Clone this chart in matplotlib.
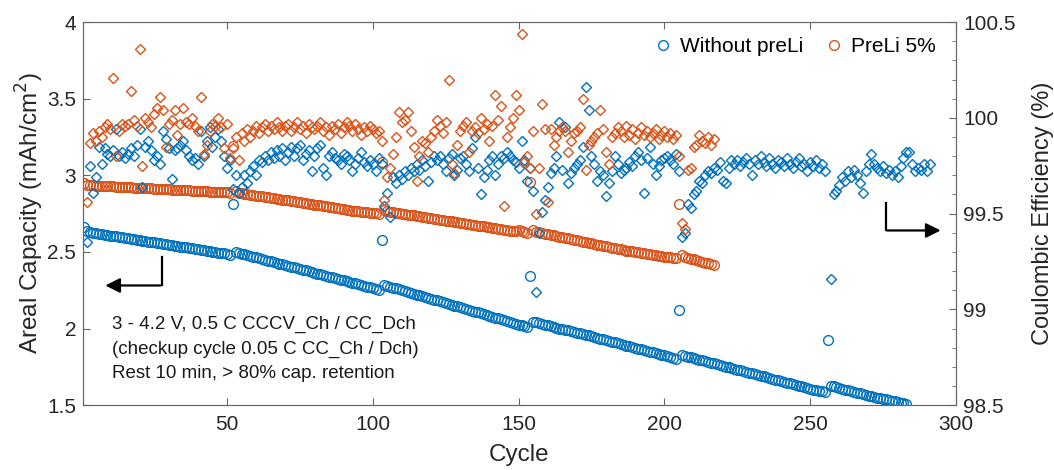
import numpy as np
import matplotlib
matplotlib.use("Agg")
import matplotlib.pyplot as plt

plt.rcParams['font.family'] = ['Liberation Sans', 'DejaVu Sans']

# areal capacity (mAh/cm2), one value per cycle starting at cycle 1
cap_blue = [
    2.660, 2.635, 2.629, 2.625, 2.622, 2.619, 2.616, 2.613, 2.610, 2.607,
    2.604, 2.601, 2.598, 2.595, 2.592, 2.589, 2.586, 2.583, 2.580, 2.577,
    2.574, 2.571, 2.568, 2.565, 2.562, 2.559, 2.556, 2.553, 2.550, 2.547,
    2.544, 2.541, 2.538, 2.535, 2.532, 2.529, 2.526, 2.523, 2.520, 2.517,
    2.514, 2.511, 2.508, 2.505, 2.502, 2.499, 2.496, 2.493, 2.490, 2.487,
    2.483, 2.810, 2.500, 2.494, 2.489, 2.484, 2.479, 2.474, 2.469, 2.464,
    2.459, 2.454, 2.449, 2.444, 2.439, 2.434, 2.429, 2.424, 2.419, 2.414,
    2.409, 2.404, 2.399, 2.394, 2.389, 2.384, 2.379, 2.374, 2.369, 2.364,
    2.359, 2.354, 2.349, 2.344, 2.339, 2.334, 2.329, 2.324, 2.319, 2.314,
    2.309, 2.304, 2.299, 2.294, 2.289, 2.284, 2.279, 2.274, 2.269, 2.264,
    2.259, 2.254, 2.580,
    2.285, 2.279, 2.273, 2.267, 2.262, 2.256, 2.250,
    2.245, 2.239, 2.234, 2.228, 2.222, 2.217, 2.211, 2.206, 2.200, 2.194,
    2.189, 2.183, 2.178, 2.172, 2.166, 2.161, 2.155, 2.150, 2.144, 2.138,
    2.133, 2.127, 2.122, 2.116, 2.110, 2.105, 2.099, 2.094, 2.088, 2.082,
    2.077, 2.071, 2.066, 2.060, 2.054, 2.049, 2.043, 2.038, 2.032, 2.026,
    2.021, 2.015, 2.010,
    2.340, 2.045, 2.040,
    2.035, 2.030, 2.025, 2.020, 2.015, 2.010, 2.005, 2.000, 1.995, 1.990,
    1.992, 1.983, 1.978, 1.973, 1.968, 1.963, 1.958, 1.958, 1.950, 1.944,
    1.939, 1.934, 1.929, 1.924, 1.919, 1.914, 1.909, 1.904, 1.899, 1.894,
    1.889, 1.884, 1.879, 1.874, 1.869, 1.864, 1.859, 1.854, 1.849, 1.844,
    1.839, 1.834, 1.829, 1.824, 1.819, 1.814, 1.809, 1.804,
    2.124, 1.828, 1.822,
    1.817, 1.812, 1.807, 1.802, 1.797, 1.792, 1.787, 1.782, 1.777, 1.772,
    1.767, 1.762, 1.757, 1.752, 1.747, 1.742, 1.737, 1.732, 1.727, 1.722,
    1.717, 1.712, 1.707, 1.702, 1.697, 1.692, 1.687, 1.682, 1.677, 1.672,
    1.667, 1.662, 1.657, 1.652, 1.647, 1.642, 1.637, 1.632, 1.627, 1.622,
    1.617, 1.612, 1.607, 1.602, 1.598, 1.594, 1.590, 1.586,
    1.928, 1.628, 1.622,
    1.617, 1.612, 1.607, 1.602, 1.597, 1.592, 1.587, 1.582, 1.577, 1.572,
    1.567, 1.562, 1.557, 1.553, 1.549, 1.545, 1.541, 1.537, 1.533, 1.529,
    1.525, 1.521, 1.516, 1.511, 1.506,
]

cap_orange = [
    2.950, 2.938, 2.935, 2.934, 2.933, 2.932, 2.931, 2.930, 2.929, 2.928,
    2.927, 2.926, 2.925, 2.924, 2.923, 2.922, 2.921, 2.920, 2.919, 2.918,
    2.917, 2.916, 2.915, 2.914, 2.913, 2.912, 2.911, 2.910, 2.909, 2.908,
    2.907, 2.906, 2.905, 2.904, 2.903, 2.902, 2.901, 2.900, 2.899, 2.898,
    2.897, 2.896, 2.895, 2.894, 2.893, 2.892, 2.891, 2.890, 2.889, 2.888, 2.887,
    3.190, 2.895, 2.887,
    2.883, 2.880, 2.877, 2.874, 2.871, 2.868, 2.865, 2.862, 2.859, 2.856,
    2.853, 2.850, 2.848, 2.845, 2.842, 2.839, 2.836, 2.833, 2.830, 2.827,
    2.824, 2.821, 2.818, 2.815, 2.812, 2.809, 2.806, 2.803, 2.800, 2.797,
    2.794, 2.791, 2.788, 2.785, 2.782, 2.779, 2.776, 2.773, 2.770, 2.767,
    2.764, 2.762, 2.760, 2.758, 2.756, 2.754, 2.752, 2.750,
    3.085, 2.772, 2.765,
    2.762, 2.759, 2.756, 2.753, 2.750, 2.747, 2.744, 2.741, 2.738, 2.735,
    2.732, 2.729, 2.726, 2.723, 2.720, 2.717, 2.714, 2.711, 2.708, 2.705,
    2.702, 2.699, 2.696, 2.693, 2.690, 2.687, 2.684, 2.681, 2.678, 2.675,
    2.672, 2.669, 2.666, 2.663, 2.660, 2.657, 2.654, 2.651, 2.648, 2.645,
    2.642, 2.639, 2.636, 2.638, 2.642, 2.636, 2.630, 2.625,
    2.955, 2.640, 2.633,
    2.628, 2.624, 2.620, 2.616, 2.612, 2.608, 2.604, 2.600, 2.596, 2.592,
    2.588, 2.584, 2.580, 2.576, 2.572, 2.568, 2.564, 2.560, 2.556, 2.552,
    2.548, 2.544, 2.540, 2.536, 2.532, 2.528, 2.524, 2.520, 2.516, 2.512,
    2.509, 2.506, 2.503, 2.500, 2.497, 2.494, 2.491, 2.488, 2.485, 2.482,
    2.479, 2.476, 2.473, 2.470, 2.467, 2.464, 2.461, 2.458,
    2.810, 2.478, 2.470,
    2.463, 2.457, 2.451, 2.445, 2.440, 2.435, 2.430, 2.425, 2.420, 2.415,
]

# coulombic efficiency (%), starting at cycle 2
ce_blue = [
    99.35, 99.75, 99.61, 99.69, 99.85, 99.76, 99.84, 99.81, 99.80, 99.83,
    99.94, 99.80, 99.82, 99.79, 99.81, 99.84, 99.80, 99.86, 99.94, 99.64,
    99.85, 99.88, 99.83, 99.78, 99.80, 99.76, 99.93, 99.89, 99.84, 99.68,
    99.83, 99.84, 99.86, 99.88, 99.83, 99.80, 99.78, 99.79, 99.76, 99.93,
    99.80, 99.88, 99.95, 99.85, 99.90, 99.94, 99.88, 99.80, 99.74, 99.78,
    99.63, 99.70, 99.61, 99.64, 99.70, 99.66, 99.72, 99.75, 99.70, 99.78,
    99.77, 99.80, 99.78, 99.82, 99.79, 99.83, 99.80, 99.84, 99.78, 99.82,
    99.85, 99.80, 99.84, 99.86, 99.78, 99.81, 99.83, 99.72, 99.80, 99.84,
    99.86, 99.74, 99.70, 99.80, 99.82, 99.79, 99.78, 99.76, 99.81, 99.80,
    99.78, 99.72, 99.76, 99.79, 99.82, 99.77, 99.75, 99.78, 99.76, 99.72,
    99.79, 99.76, 99.54, 99.61, 99.48, 99.69, 99.66, 99.70, 99.68, 99.72,
    99.70, 99.74, 99.72, 99.76, 99.73, 99.78, 99.75, 99.67, 99.77, 99.80,
    99.78, 99.80, 99.76, 99.72, 99.79, 99.81, 99.70, 99.73, 99.79, 99.80,
    99.76, 99.72, 99.84, 99.90, 99.74, 99.60, 99.69, 99.73, 99.78, 99.80,
    99.70, 99.76, 99.80, 99.79, 99.82, 99.80, 99.78, 99.77, 99.74, 99.88,
    99.78, 99.67, 99.74, 99.62, 99.09, 99.40, 99.51, 99.57, 99.64, 99.71,
    99.74, 99.80, 99.98, 99.73, 99.95, 99.66, 99.71, 99.74, 99.76, 99.78,
    99.85, 100.16, 100.04, 99.80, 99.76, 99.67, 99.72, 99.70, 99.59, 99.66,
    99.72, 99.80, 99.76, 99.71, 99.73, 99.74, 99.77, 99.75, 99.80, 99.82,
    99.78, 99.61, 99.79, 99.85, 99.76, 99.70, 99.75, 99.78, 99.79, 99.80,
    99.78, 99.76, 99.81, 99.72, 99.38, 99.40, 99.55, 99.53, 99.60, 99.62, 99.67, 99.66,
    99.70, 99.72, 99.71, 99.74, 99.73, 99.77, 99.67, 99.66, 99.74, 99.78,
    99.76, 99.78, 99.75, 99.77, 99.79, 99.76, 99.70, 99.78, 99.76, 99.80,
    99.77, 99.75, 99.79, 99.76, 99.74, 99.78, 99.77, 99.75, 99.79, 99.76,
    99.74, 99.77, 99.79, 99.75, 99.76, 99.72, 99.77, 99.75, 99.78, 99.74,
    99.76, 99.72, np.nan, 99.16, 99.60,
    99.62, 99.65, 99.69, 99.67, 99.72, 99.69, 99.73, 99.70, 99.66, 99.61,
    99.72, 99.76, 99.81, 99.76, 99.74, 99.72, 99.75, 99.71, 99.73, 99.70,
    99.72, 99.69, 99.75, 99.79, 99.82, 99.82, 99.76, 99.72, 99.74, 99.73, 99.76, 99.72, 99.76,
]

ce_orange = [
    99.56, 99.87, 99.92, 99.88, 99.93, 99.90, 99.95, 99.97, 99.94, 100.21,
    99.80, 99.93, 99.97, 99.96, 99.97, 100.14, 99.99, 99.96, 100.36, 99.75,
    100.00, 99.98, 99.95, 100.02, 100.05, 100.11, 100.04, 99.85, 99.97, 99.99,
    100.04, 99.91, 99.97, 100.05, 99.98, 99.97, 100.00, 99.96, 99.93, 100.11,
    99.81, 99.86, 99.93, 99.97, 99.96, 100.00, 99.95, 99.84, 99.97, 99.79,
    99.84, 99.90, 99.78, 99.92, 99.88, 99.94, 99.90, 99.93, 99.96, 99.92,
    99.95, 99.97, 99.93, 99.96, 99.94, 99.98, 99.95, 99.93, 99.96, 99.97,
    99.93, 99.95, 99.98, 99.94, 99.96, 99.92, 99.97, 99.95, 99.94, 99.96,
    99.98, 99.93, 99.95, 99.91, 99.96, 99.94, 99.97, 99.92, 99.95, 99.98,
    99.96, 99.93, 99.97, 99.94, 99.91, 99.95, 99.93, 99.96, 99.94, 99.92,
    99.93, 99.88, 99.57, 99.69, 99.74, 99.81, 99.90, 100.03, 99.98, 99.99,
    100.03, 99.93, 99.85, 99.67, 99.80, 99.88, 99.87, 99.82, 99.90, 99.93,
    99.99, 99.96, 99.92, 99.98, 100.20, 99.76, 99.71, 99.86, 99.93, 99.96,
    99.98, 99.82, 99.93, 99.95, 99.92, 100.00, 99.94, 99.97, 99.88, 99.96,
    100.12, 99.99, 100.06, 99.54, 99.90, 99.95, 100.00, 100.12, 100.04, 100.44,
    99.77, 99.80, 99.74, 99.93, 99.50, 99.74, 100.07, 99.94, 99.56, 99.94,
    99.86, 99.90, 99.93, 99.95, 99.93, 99.82, 99.88, 99.92, 99.93, 99.95,
    100.10, 99.73, 99.86, 99.88, 99.90, 99.92, 100.04, 99.94, 99.82, 99.76,
    99.90, 99.92, 99.95, 99.93, 99.90, 99.96, 99.91, 99.94, 99.89, 99.92,
    99.95, 99.91, 99.93, 99.90, 99.92, 99.94, 99.89, 99.91, 99.93, 99.90,
    99.92, 99.89, 99.91, 99.80, 99.45, 99.42, 99.73, 99.74, 99.85, 99.86,
    99.91, 99.88, 99.87, 99.90, 99.86, 99.89,
]

blue = '#0072BD'
orange = '#D95319'

cyc_cap_b = np.arange(1, len(cap_blue) + 1)
cyc_cap_o = np.arange(1, len(cap_orange) + 1)
cyc_ce_b = np.arange(2, len(ce_blue) + 2)
cyc_ce_o = np.arange(2, len(ce_orange) + 2)

fig = plt.figure(figsize=(10.54, 4.70), dpi=100)
ax = fig.add_subplot(111)
fig.subplots_adjust(left=0.0787, right=0.907, bottom=0.138, top=0.953)
ax2 = ax.twinx()

l1, = ax.plot(cyc_cap_b, cap_blue, 'o', ls='none', mfc='none', mec=blue, ms=7, mew=1.0)
l2, = ax.plot(cyc_cap_o, cap_orange, 'o', ls='none', mfc='none', mec=orange, ms=7, mew=1.0)
ax2.plot(cyc_ce_b, ce_blue, 'D', ls='none', mfc='none', mec=blue, ms=5.2, mew=1.0)
ax2.plot(cyc_ce_o, ce_orange, 'D', ls='none', mfc='none', mec=orange, ms=5.2, mew=1.0)

ax.set_xlim(0.6, 300)
ax.set_ylim(1.5, 4)
ax2.set_ylim(98.5, 100.5)
ax.set_xticks([50, 100, 150, 200, 250, 300])
ax.set_yticks([1.5, 2, 2.5, 3, 3.5, 4])
ax.set_yticklabels(['1.5', '2', '2.5', '3', '3.5', '4'])
ax2.set_yticks([98.5, 99, 99.5, 100, 100.5])
ax2.set_yticklabels(['98.5', '99', '99.5', '100', '100.5'])
ax2.set_yticks(np.arange(98.6, 100.45, 0.1), minor=True)

edge = '#666666'
tick_c = '#262626'
for a in (ax, ax2):
    for s in a.spines.values():
        s.set_color(edge)
        s.set_linewidth(0.8)
ax.tick_params(axis='x', which='both', direction='in', top=True, length=5, color=edge,
               labelsize=15, labelcolor=tick_c, pad=7)
ax.tick_params(axis='y', direction='in', length=5, color=edge, labelsize=15, labelcolor=tick_c, pad=5)
ax2.tick_params(axis='y', which='major', direction='in', length=5, color=edge, labelsize=15,
                labelcolor=tick_c, pad=5)
ax2.tick_params(axis='y', which='minor', direction='in', length=3, color=edge)

ax.set_xlabel('Cycle', fontsize=17.5, color=tick_c, labelpad=7)
ax.set_ylabel('Areal Capacity (mAh/cm$^2$)', fontsize=17.5, color=tick_c, labelpad=1)
ax2.set_ylabel('Coulombic Efficiency (%)', fontsize=17, color=tick_c, labelpad=12)

ax.text(0.033, 0.232,
        '3 - 4.2 V, 0.5 C CCCV_Ch / CC_Dch\n(checkup cycle 0.05 C CC_Ch / Dch)\nRest 10 min, > 80% cap. retention',
        transform=ax.transAxes, fontsize=13.5, va='top', ha='left', linespacing=1.55, color='#1a1a1a')

# direction arrows
ax.plot([27.6, 27.6], [2.466, 2.281], color='k', lw=1.6)
ax.annotate('', xy=(7.3, 2.281), xytext=(28.1, 2.281),
            arrowprops=dict(arrowstyle='-|>', color='k', lw=1.6, mutation_scale=22))
ax.plot([275.9, 275.9], [2.817, 2.640], color='k', lw=1.6)
ax.annotate('', xy=(295.7, 2.640), xytext=(275.4, 2.640),
            arrowprops=dict(arrowstyle='-|>', color='k', lw=1.6, mutation_scale=22))

ax2.legend([l1, l2], ['Without preLi', 'PreLi 5%'], loc='center right',
           bbox_to_anchor=(0.998, 0.935), ncol=2, frameon=False, fontsize=15,
           handletextpad=0.3, columnspacing=1.0, handlelength=1.0)

fig.savefig('out.png', dpi=100)
